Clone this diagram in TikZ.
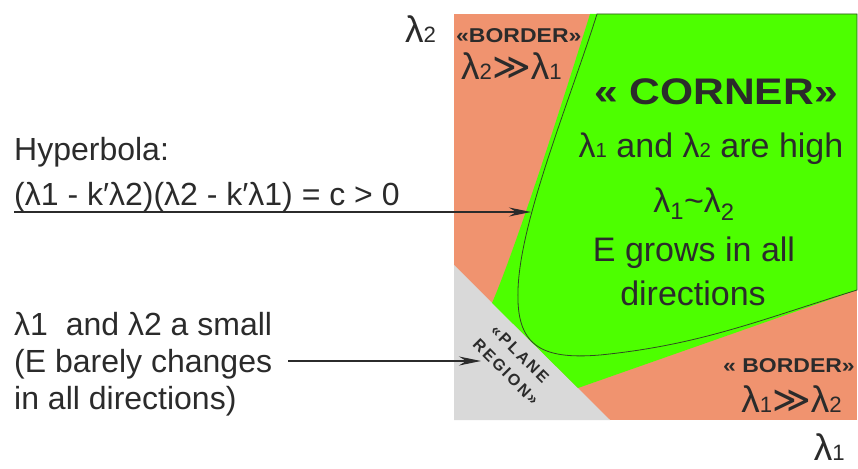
\documentclass[tikz,border=0pt]{standalone}
\usepackage{fontspec}
\setmainfont{Liberation Sans}
\newfontfamily\symfont{DejaVu Sans}
\newfontfamily\widebold[FakeStretch=1.15]{Liberation Sans Bold}
\newfontfamily\spacedbold[LetterSpace=14]{Liberation Sans Bold}
\usetikzlibrary{arrows.meta}
\definecolor{borderorange}{HTML}{F0936F}
\definecolor{cornergreen}{HTML}{4DFF00}
\definecolor{planegrey}{HTML}{D9D9D9}
\definecolor{ink}{HTML}{2B2B2B}
\definecolor{curveink}{HTML}{2F4A22}
\newcommand{\lsub}[1]{λ\scalebox{0.6}{#1}}
\newcommand{\much}{{\symfont ≫}}

\begin{document}
\begin{tikzpicture}[x=1pt, y=-1pt,
  txt/.style={inner sep=0pt, text=ink, font=\fontsize{32}{37}\selectfont},
  big/.style={inner sep=0pt, text=ink, font=\fontsize{34}{40}\selectfont},
  lam/.style={inner sep=0pt, text=ink, font=\fontsize{37}{40}\selectfont},
  hard/.style={inner sep=0pt, text=ink, font=\widebold\fontsize{20}{24}\selectfont},
  tilted/.style={inner sep=0pt, text=ink, rotate=-45,
    font=\spacedbold\fontsize{16}{20}\selectfont},
  ptr/.style={draw=ink, line width=1.5pt,
    -{Stealth[length=22pt, width=9pt]}}]
\useasboundingbox (0,0) rectangle (858,468);
% regions of the (lambda1, lambda2) plane
\fill[borderorange] (454,14) rectangle (857,420);
\fill[planegrey] (454,265) -- (610,420) -- (454,420) -- cycle;
\fill[cornergreen] (590,14) -- (857,14) -- (857,290) -- (578,388)
  -- (492,303) .. controls (515,250) and (560,110) .. (590,14) -- cycle;
\draw[curveink, line width=0.8pt] (597,14) .. controls (570,100) and (520,220)
  .. (518,290) .. controls (516,345) and (540,360) .. (600,355)
  .. controls (700,345) and (760,320) .. (857,290) -- (857,14) -- cycle;
% axes labels
\node[lam, anchor=base west] (ltwo) at (405,43) {\lsub{2}};
\node[lam, anchor=base east] (lone) at (845,460) {\lsub{1}};
% border regions
\node[hard, anchor=base west] (bordtop) at (456,43) {«BORDER»};
\node[lam, anchor=base west] (domtop) at (461,80) {\lsub{2}\much\lsub{1}};
\node[hard, anchor=base east] (bordbot) at (855,372) {« BORDER»};
\node[lam, anchor=base east] (dombot) at (842,412) {\lsub{1}\much\lsub{2}};
% corner region
\node[inner sep=0pt, text=ink, font=\widebold\fontsize{37}{40}\selectfont,
  anchor=base] (corner) at (716,105) {« CORNER»};
\node[big, anchor=base] (high) at (711,157) {\lsub{1} and \lsub{2} are high};
\node[big, anchor=base] (equal) at (694,212)
  {λ\textsubscript{1}\textasciitilde λ\textsubscript{2}};
\node[big, anchor=base] (grows) at (694,261) {E grows in all};
\node[big, anchor=base] (dirs) at (693,305) {directions};
% plane region
\node[tilted] (plane) at (520,354) {«PLANE};
\node[tilted] (region) at (506,372) {REGION»};
% left notes
\node[txt, anchor=base west] (hyp) at (14,160) {Hyperbola:};
\node[txt, anchor=base west] (eqn) at (14,205)
  {(λ1 - k′λ2)(λ2 - k′λ1) = c > 0};
\node[txt, anchor=base west] (smallA) at (14,335) {λ1\ \ and λ2 a small};
\node[txt, anchor=base west] (smallB) at (14,372) {(E barely changes};
\node[txt, anchor=base west] (smallC) at (14,409) {in all directions)};
% pointers
\coordinate (hypfrom) at (14,212);
\coordinate (hypto) at (531,212);
\draw[ptr] (hypfrom) -- (hypto);
\coordinate (smallfrom) at (288,361);
\coordinate (smallto) at (481,361);
\draw[ptr] (smallfrom) -- (smallto);
\end{tikzpicture}
\end{document}
